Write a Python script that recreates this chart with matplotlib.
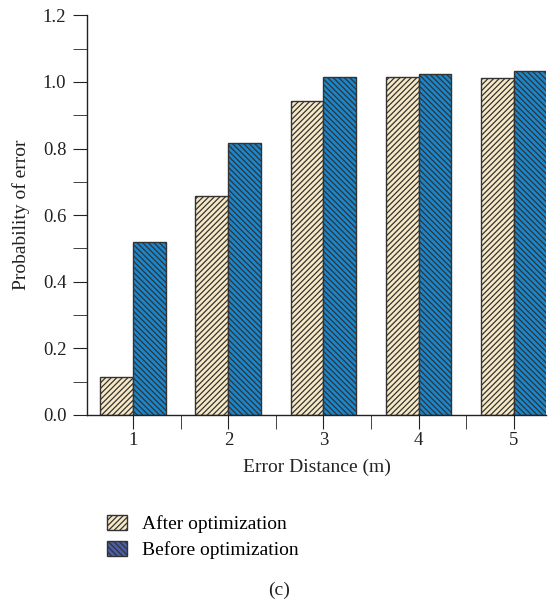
import numpy as np
import matplotlib.pyplot as plt
from matplotlib.patches import Patch
from matplotlib.ticker import MultipleLocator

plt.rcParams['font.family'] = ['Liberation Serif', 'DejaVu Serif']
plt.rcParams['hatch.linewidth'] = 0.9

distances = [1, 2, 3, 4, 5]
after_opt = [0.115, 0.658, 0.943, 1.015, 1.013]
before_opt = [0.52, 0.818, 1.015, 1.024, 1.033]

after_color = '#f8e9c6'
before_color = '#1a86cc'
edge = '#333333'

fig = plt.figure(figsize=(5.59, 6.12), dpi=100)
ax = fig.add_axes([0.156, 0.322, 0.821, 0.653])

x = np.array(distances)
w = 0.345
ax.bar(x - w / 2, after_opt, w, color=after_color, edgecolor=edge,
       hatch='//////', linewidth=1.0)
ax.bar(x + w / 2, before_opt, w, color=before_color, edgecolor=edge,
       hatch='\\' * 6, linewidth=1.0)

ax.set_xticks(distances)
ax.set_xticks(x[:-1] + 0.5, minor=True)
ax.set_xlim(0.517, 5.34)
ax.set_ylim(0, 1.2)
ax.yaxis.set_major_locator(MultipleLocator(0.2))
ax.yaxis.set_minor_locator(MultipleLocator(0.1))
ax.yaxis.set_major_formatter(plt.FormatStrFormatter('%.1f'))

for s in ['top', 'right']:
    ax.spines[s].set_visible(False)
for s in ['left', 'bottom']:
    ax.spines[s].set_color('#222222')
    ax.spines[s].set_linewidth(1.0)

ax.tick_params(axis='both', which='both', direction='out', color='#222222',
               labelsize=13.5, labelcolor='#222222', length=10, pad=5)
ax.tick_params(axis='x', which='both', pad=2)

ax.set_xlabel('Error Distance (m)', fontsize=14, color='#222222', labelpad=7)
ax.set_ylabel('Probability of error', fontsize=14, color='#222222', labelpad=9)

handles = [Patch(facecolor=after_color, edgecolor=edge, hatch='//////'),
           Patch(facecolor='#4a5ea8', edgecolor=edge, hatch='\\' * 6)]
fig.legend(handles, ['After optimization', 'Before optimization'],
           loc='upper left', bbox_to_anchor=(0.178, 0.172), frameon=False,
           fontsize=14, handlelength=1.0, handleheight=0.85, labelspacing=0.4,
           handletextpad=0.8, borderaxespad=0)

fig.text(0.5, 0.036, '(c)', ha='center', va='center', fontsize=14, color='#222222')

fig.savefig('out.png', dpi=100)
